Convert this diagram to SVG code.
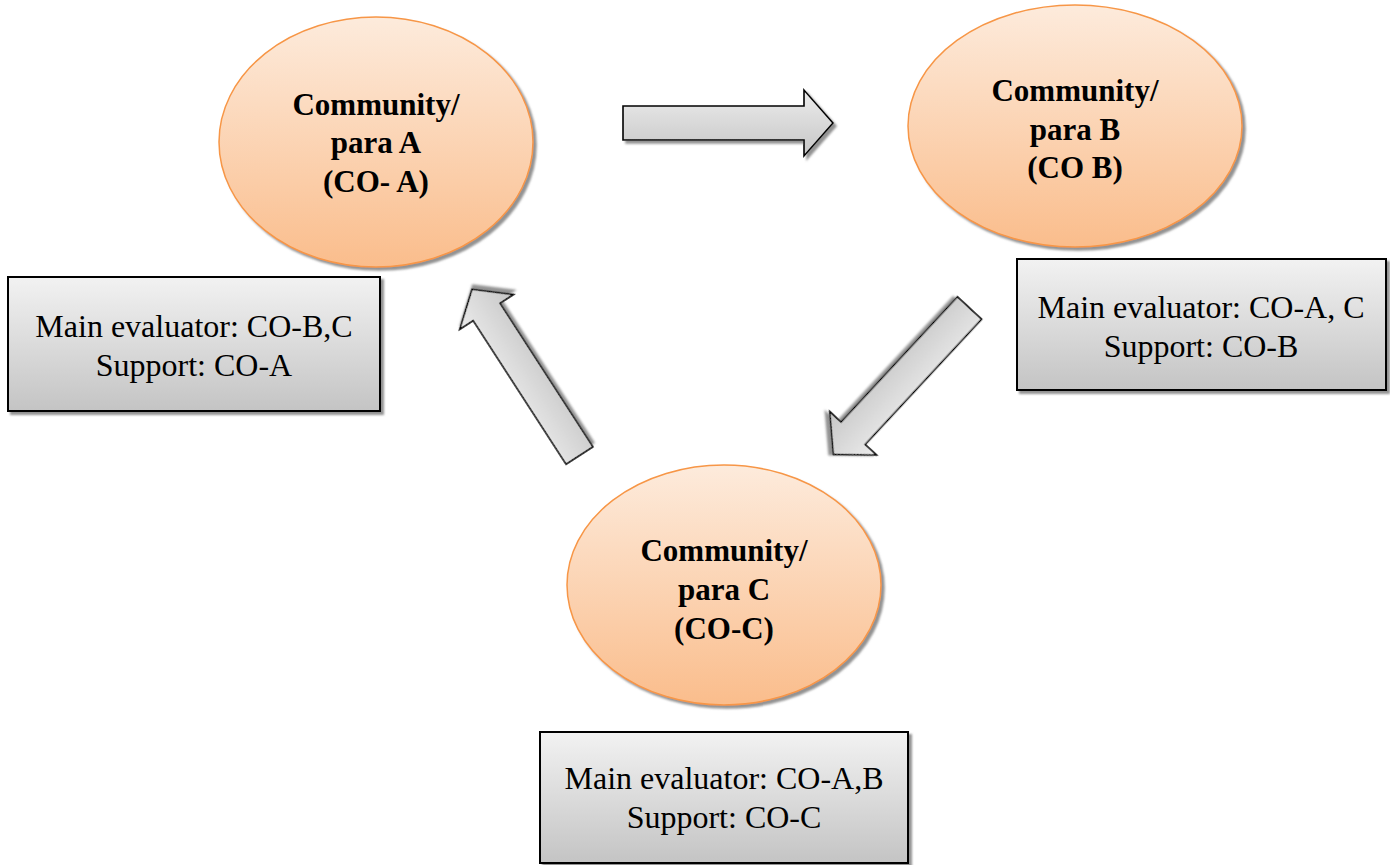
<svg xmlns="http://www.w3.org/2000/svg" width="1390" height="865" viewBox="0 0 1390 865">
<defs>
<linearGradient id="gOrange" x1="0" y1="0" x2="0" y2="1">
<stop offset="0" stop-color="#fdebdc"/>
<stop offset="1" stop-color="#fabd8c"/>
</linearGradient>
<linearGradient id="gGray" x1="0" y1="0" x2="0" y2="1">
<stop offset="0" stop-color="#f2f2f2"/>
<stop offset="1" stop-color="#c4c4c4"/>
</linearGradient>
<linearGradient id="gArrow" x1="0" y1="0" x2="0" y2="1">
<stop offset="0" stop-color="#ececec"/>
<stop offset="1" stop-color="#c6c6c6"/>
</linearGradient>
<filter id="shadow" x="-10%" y="-10%" width="130%" height="130%">
<feDropShadow dx="3" dy="3" stdDeviation="1.2" flood-color="#777" flood-opacity="0.8"/>
</filter>
</defs>
<style>
.ell{fill:url(#gOrange);stroke:#f79646;stroke-width:1.5;filter:url(#shadow)}
.box{fill:url(#gGray);stroke:#000;stroke-width:2;filter:url(#shadow)}
.arr{fill:url(#gArrow);stroke:#000;stroke-width:1.6;stroke-linejoin:miter;filter:url(#shadow)}
text{font-family:'Liberation Serif','DejaVu Serif',serif;text-anchor:middle;fill:#000}
.t1{font-weight:bold;font-size:31px}
.t2{font-weight:normal;font-size:32px}
</style>
<rect width="1390" height="865" fill="#fff"/>
<g id="connectors">
<path class="arr" transform="translate(623,123)" d="M0,-17 L181,-17 L181,-33 L210,0 L181,33 L181,17 L0,17 Z"/>
<path class="arr" transform="translate(969.5,308) rotate(132.9)" d="M0,-16.5 L171,-16.5 L171,-32 L200,0 L171,32 L171,16.5 L0,16.5 Z"/>
<path class="arr" transform="translate(579.5,455.5) rotate(-122.9)" d="M0,-16 L171,-16 L171,-32 L198,0 L171,32 L171,16 L0,16 Z"/>
</g>
<g id="nodeA">
<ellipse class="ell" cx="376" cy="142" rx="157" ry="125"/>
<text class="t1" x="376" y="115" font-family="Liberation Serif, serif">Community/</text>
<text class="t1" x="376" y="153" font-family="Liberation Serif, serif">para A</text>
<text class="t1" x="376" y="192" font-family="Liberation Serif, serif">(CO- A)</text>
</g>
<g id="nodeB">
<ellipse class="ell" cx="1075" cy="126" rx="167" ry="121"/>
<text class="t1" x="1075" y="101">Community/</text>
<text class="t1" x="1075" y="140">para B</text>
<text class="t1" x="1075" y="178">(CO B)</text>
</g>
<g id="nodeC">
<ellipse class="ell" cx="724" cy="585" rx="157" ry="120"/>
<text class="t1" x="724" y="561">Community/</text>
<text class="t1" x="724" y="600">para C</text>
<text class="t1" x="724" y="639">(CO-C)</text>
</g>
<g id="boxA">
<rect class="box" x="8" y="277" width="372" height="134"/>
<text class="t2" x="194" y="337">Main evaluator: CO-B,C</text>
<text class="t2" x="194" y="376">Support: CO-A</text>
</g>
<g id="boxB">
<rect class="box" x="1017" y="259" width="369" height="131"/>
<text class="t2" x="1201" y="318">Main evaluator: CO-A, C</text>
<text class="t2" x="1201" y="357">Support: CO-B</text>
</g>
<g id="boxC">
<rect class="box" x="540" y="732" width="368" height="131"/>
<text class="t2" x="724" y="789">Main evaluator: CO-A,B</text>
<text class="t2" x="724" y="828">Support: CO-C</text>
</g>
</svg>
